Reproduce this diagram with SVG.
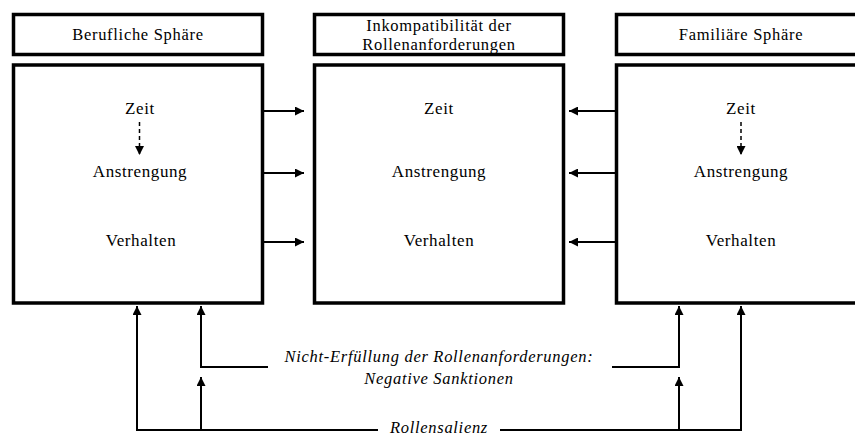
<svg xmlns="http://www.w3.org/2000/svg" width="855" height="438" viewBox="0 0 855 438">
  <style>
    .box { fill: #fff; stroke: #000; stroke-width: 3.5; }
    .t { font-family: "Liberation Serif", "Times New Roman", serif; font-size: 17px; fill: #000; text-anchor: middle; letter-spacing: 0.6px; }
    .h { font-family: "Liberation Serif", "Times New Roman", serif; font-size: 16.5px; fill: #000; text-anchor: middle; letter-spacing: 0.7px; }
    .i { font-family: "Liberation Serif", "Times New Roman", serif; font-size: 16.5px; font-style: italic; fill: #000; text-anchor: middle; letter-spacing: 0.7px; }
    .ln { fill: none; stroke: #000; stroke-width: 2; }
    .dash { fill: none; stroke: #000; stroke-width: 1.5; stroke-dasharray: 4 3; }
  </style>
  <defs>
    <marker id="ah" viewBox="0 0 10 10" refX="10" refY="5" markerWidth="11" markerHeight="9" markerUnits="userSpaceOnUse" orient="auto">
      <path d="M0,0 L10,5 L0,10 Z" fill="#000"/>
    </marker>
  </defs>
  <rect width="855" height="438" fill="#fff"/>

  <!-- work sphere -->
  <g id="beruf">
    <rect class="box" x="13.5" y="14.5" width="249" height="40"/>
    <text class="h" x="138" y="40">Berufliche Sphäre</text>
    <rect class="box" x="13.5" y="65" width="249" height="238"/>
    <text class="t" x="140" y="114">Zeit</text>
    <text class="t" x="140" y="177">Anstrengung</text>
    <text class="t" x="141" y="246">Verhalten</text>
  </g>

  <!-- incompatibility of role demands -->
  <g id="inkompatibilitaet">
    <rect class="box" x="314.5" y="14.5" width="249" height="40"/>
    <text class="h" x="439" y="31">Inkompatibilität der</text>
    <text class="h" x="439" y="50">Rollenanforderungen</text>
    <rect class="box" x="314.5" y="65" width="249" height="238"/>
    <text class="t" x="439" y="114">Zeit</text>
    <text class="t" x="439" y="177">Anstrengung</text>
    <text class="t" x="439" y="246">Verhalten</text>
  </g>

  <!-- family sphere -->
  <g id="familie">
    <rect class="box" x="616.5" y="14.5" width="249" height="40"/>
    <text class="h" x="741" y="40">Familiäre Sphäre</text>
    <rect class="box" x="616.5" y="65" width="249" height="238"/>
    <text class="t" x="741" y="114">Zeit</text>
    <text class="t" x="741" y="177">Anstrengung</text>
    <text class="t" x="741" y="246">Verhalten</text>
  </g>

  <!-- feedback labels -->
  <g id="labels">
    <text class="i" x="439" y="362">Nicht-Erfüllung der Rollenanforderungen:</text>
    <text class="i" x="439" y="384">Negative Sanktionen</text>
    <text class="i" x="439" y="433">Rollensalienz</text>
  </g>

  <g id="connectors">
    <!-- Zeit to Anstrengung inside each sphere -->
    <line class="dash" x1="139.5" y1="122" x2="139.5" y2="155" marker-end="url(#ah)"/>
    <line class="dash" x1="741" y1="122" x2="741" y2="155" marker-end="url(#ah)"/>

    <!-- spheres into incompatibility box -->
    <line class="ln" x1="264" y1="111" x2="304" y2="111" marker-end="url(#ah)"/>
    <line class="ln" x1="264" y1="173" x2="304" y2="173" marker-end="url(#ah)"/>
    <line class="ln" x1="264" y1="242" x2="304" y2="242" marker-end="url(#ah)"/>
    <line class="ln" x1="615" y1="111" x2="569" y2="111" marker-end="url(#ah)"/>
    <line class="ln" x1="615" y1="173" x2="569" y2="173" marker-end="url(#ah)"/>
    <line class="ln" x1="615" y1="242" x2="569" y2="242" marker-end="url(#ah)"/>

    <!-- negative sanctions feedback -->
    <polyline class="ln" points="268,367 201,367 201,306" marker-end="url(#ah)"/>
    <polyline class="ln" points="612,367 679,367 679,306" marker-end="url(#ah)"/>

    <!-- role salience feedback -->
    <polyline class="ln" points="378,430 137,430 137,306" marker-end="url(#ah)"/>
    <polyline class="ln" points="500,430 741,430 741,306" marker-end="url(#ah)"/>
    <line class="ln" x1="201" y1="430" x2="201" y2="377" marker-end="url(#ah)"/>
    <line class="ln" x1="679" y1="430" x2="679" y2="377" marker-end="url(#ah)"/>
  </g>
</svg>
